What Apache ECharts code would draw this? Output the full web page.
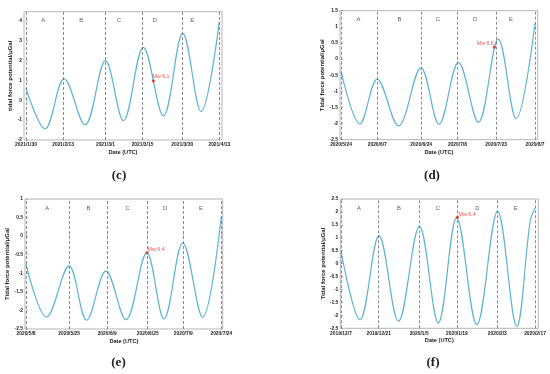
<!DOCTYPE html>
<html><head><meta charset="utf-8">
<script src="https://cdn.jsdelivr.net/npm/echarts@6/dist/echarts.min.js"></script>
<style>html,body{margin:0;padding:0;background:#fff}#chart{width:550px;height:374px}</style>
</head><body><div id="chart"></div>
<script>
// ---------- Panel (c) ----------
const cDays   = [0, 7.2, 14.4, 22.3, 30, 36.8, 44.3, 51.9, 59.2, 66.1, 73];
const cValues = [0.60, -1.44, 1.07, -1.24, 1.99, -1.03, 2.66, -0.79, 3.36, -0.57, 3.95];
const cTickDays   = [0, 14, 30, 44, 59, 73];
const cTickLabels = ['2021/1/30', '2021/2/13', '2021/3/1', '2021/3/15', '2021/3/30', '2021/4/13'];
const cSectionDays = [6.5, 20.8, 35.2, 48.7, 62.8];
const cEvent = [48.1, 0.97];
const cEventLabel = 'Mw 6.1';

// ---------- Panel (d) ----------
const dDays   = [0, 7.3, 14.0, 22.2, 30.9, 37.9, 45.4, 53.1, 60.8, 67.7, 75];
const dValues = [-0.37, -2.01, -0.62, -2.07, -0.27, -2.02, -0.10, -1.96, 0.62, -1.85, 1.11];
const dTickDays   = [0, 14, 31, 45, 60, 75];
const dTickLabels = ['2020/5/24', '2020/6/7', '2020/6/24', '2020/7/8', '2020/7/23', '2020/8/7'];
const dSectionDays = [6.7, 22.6, 37.4, 51.8, 65.7];
const dEvent = [59.3, 0.37];
const dEventLabel = 'Mw 6.6';

// ---------- Panel (e) ----------
const eDays   = [0, 8.1, 17.0, 23.9, 31.5, 39.4, 47.6, 54.4, 61.8, 69.6, 77];
const eValues = [-0.75, -2.18, -0.80, -2.26, -0.94, -2.25, -0.45, -2.23, -0.18, -2.18, 0.53];
const eTickDays   = [0, 17, 32, 48, 62, 77];
const eTickLabels = ['2020/5/8', '2020/5/25', '2020/6/9', '2020/6/25', '2020/7/9', '2020/7/24'];
const eSectionDays = [8.4, 24.6, 40.1, 54.8, 69.0];
const eEvent = [47.7, -0.45];
const eEventLabel = 'Mw 6.4';

// ---------- Panel (f) ----------
const fDays   = [0, 7.05, 14.1, 21.3, 29.1, 36.1, 42.9, 50.4, 58.1, 65.2, 70.2, 72];
const fValues = [0.48, -2.17, 1.08, -2.23, 1.44, -2.29, 1.77, -2.36, 2.02, -2.42, 1.64, 2.15];
const fTickDays   = [0, 14, 29, 43, 58, 72];
const fTickLabels = ['2019/12/7', '2019/12/21', '2020/1/5', '2020/1/19', '2020/2/3', '2020/2/17'];
const fSectionDays = [6.7, 21.5, 35.9, 50.6, 64.8];
const fEvent = [43.2, 1.79];
const fEventLabel = 'Mw 6.4';

const sectionLetters = ['A', 'B', 'C', 'D', 'E'];

const FONT = 'Liberation Sans, Arial, sans-serif';
const CURVE = '#5fb4d4';
const RED = '#e8251f';

const panels = [
  { days: cDays, values: cValues, ticks: cTickDays, labels: cTickLabels, sec: cSectionDays, ev: cEvent, evLabel: cEventLabel,
    yName: 'tidal force potential/μGal',
    grid: { left: 24, top: 11.7, width: 198, height: 128.3 }, xMin: -0.755, xMax: 74.02,
    yMin: -2, yMax: 4.45, yInt: 1, letterY: 4.03, yGap: 7.5, evPos: 'right', evOff: [-2.5, -4] },
  { days: dDays, values: dValues, ticks: dTickDays, labels: dTickLabels, sec: dSectionDays, ev: dEvent, evLabel: dEventLabel,
    yName: 'Tidal force potential/μGal',
    grid: { left: 340, top: 10.7, width: 197.7, height: 129 }, xMin: -0.39, xMax: 76.04,
    yMin: -2.5, yMax: 1.5, yInt: 0.5, letterY: 1.23, yGap: 12, evPos: 'left', evOff: [1, -3.5] },
  { days: eDays, values: eValues, ticks: eTickDays, labels: eTickLabels, sec: eSectionDays, ev: eEvent, evLabel: eEventLabel,
    yName: 'Tidal force potential/μGal',
    grid: { left: 25, top: 199, width: 197.7, height: 130 }, xMin: -0.39, xMax: 77.55,
    yMin: -2.5, yMax: 1, yInt: 0.5, letterY: 0.76, yGap: 12.4, evPos: 'right', evOff: [-1, -3.5] },
  { days: fDays, values: fValues, ticks: fTickDays, labels: fTickLabels, sec: fSectionDays, ev: fEvent, evLabel: fEventLabel,
    yName: 'Tidal force potential/μGal',
    grid: { left: 340.3, top: 199, width: 198, height: 129.3 }, xMin: -0.26, xMax: 73.22,
    yMin: -2.5, yMax: 2.5, yInt: 0.5, letterY: 2.15, yGap: 13, evPos: 'right', evOff: [-0.5, -3] }
];

const captions = [
  { text: '(c)', x: 119, y: 176 },
  { text: '(d)', x: 432, y: 176 },
  { text: '(e)', x: 118.5, y: 363 },
  { text: '(f)', x: 433, y: 363 }
];

const grid = [], xAxis = [], yAxis = [], series = [];
panels.forEach((p, i) => {
  grid.push(Object.assign({ show: true, borderColor: '#b5b5b5', borderWidth: 1, backgroundColor: '#fff', containLabel: false }, p.grid));
  xAxis.push({
    type: 'value', gridIndex: i, min: p.xMin, max: p.xMax,
    name: 'Date (UTC)', nameLocation: 'middle', nameGap: 9.5,
    nameTextStyle: { fontFamily: FONT, fontSize: 5.6, fontWeight: 'bold', color: '#222' },
    axisLine: { show: false },
    splitLine: { show: false },
    axisTick: { show: true, inside: true, length: 2, customValues: p.ticks, lineStyle: { color: '#888', width: 0.6 } },
    axisLabel: {
      customValues: p.ticks, margin: 2.5,
      fontFamily: FONT, fontSize: 4.9, fontWeight: 'bold', color: '#222',
      formatter: (v) => { const k = p.ticks.findIndex(t => Math.abs(t - v) < 1e-6); return k >= 0 ? p.labels[k] : ''; }
    }
  });
  yAxis.push({
    type: 'value', gridIndex: i, min: p.yMin, max: p.yMax, interval: p.yInt,
    name: p.yName, nameLocation: 'middle', nameGap: p.yGap, nameRotate: 90,
    nameTextStyle: { fontFamily: FONT, fontSize: 6, fontWeight: 'bold', color: '#222' },
    axisLine: { show: false },
    splitLine: { show: false },
    axisTick: { show: true, inside: true, length: 2, lineStyle: { color: '#888', width: 0.6 } },
    axisLabel: { margin: 2, fontFamily: FONT, fontSize: 4.9, fontWeight: 'bold', color: '#222', showMaxLabel: p.yMax % p.yInt === 0 ? true : false }
  });
  series.push({
    type: 'line', xAxisIndex: i, yAxisIndex: i,
    data: p.days.map((d, k) => [d, p.values[k]]),
    smooth: 0.36, showSymbol: false, symbol: 'none',
    lineStyle: { color: CURVE, width: 1.2 },
    z: 3,
    markLine: {
      silent: true, symbol: 'none', animation: false,
      label: { show: false },
      lineStyle: { color: '#6e6e6e', type: [3, 2], width: 0.8 },
      data: p.ticks.map(t => ({ xAxis: t }))
    }
  });
  series.push({
    type: 'scatter', xAxisIndex: i, yAxisIndex: i, symbolSize: 0, silent: true,
    data: p.sec.map((d, k) => [d, p.letterY]),
    label: { show: true, position: 'inside', fontFamily: FONT, fontSize: 5.8, color: '#333',
      formatter: (prm) => sectionLetters[prm.dataIndex] },
    z: 4
  });
  series.push({
    type: 'scatter', xAxisIndex: i, yAxisIndex: i, symbol: 'circle', symbolSize: 3.2, silent: true,
    itemStyle: { color: RED },
    data: [p.ev],
    label: { show: true, position: p.evPos, distance: 0, offset: p.evOff, formatter: p.evLabel,
      fontFamily: FONT, fontSize: 5.3, color: RED },
    z: 5
  });
});

const chart = echarts.init(document.getElementById('chart'), null, { renderer: 'canvas' });
chart.setOption({
  animation: false,
  backgroundColor: '#fff',
  grid, xAxis, yAxis, series,
  graphic: captions.map(c => ({
    type: 'text', x: c.x, y: c.y,
    style: { text: c.text, textAlign: 'center', textVerticalAlign: 'middle', font: 'bold 13px "Liberation Serif", serif', fill: '#222' }
  }))
});
</script>
</body></html>
